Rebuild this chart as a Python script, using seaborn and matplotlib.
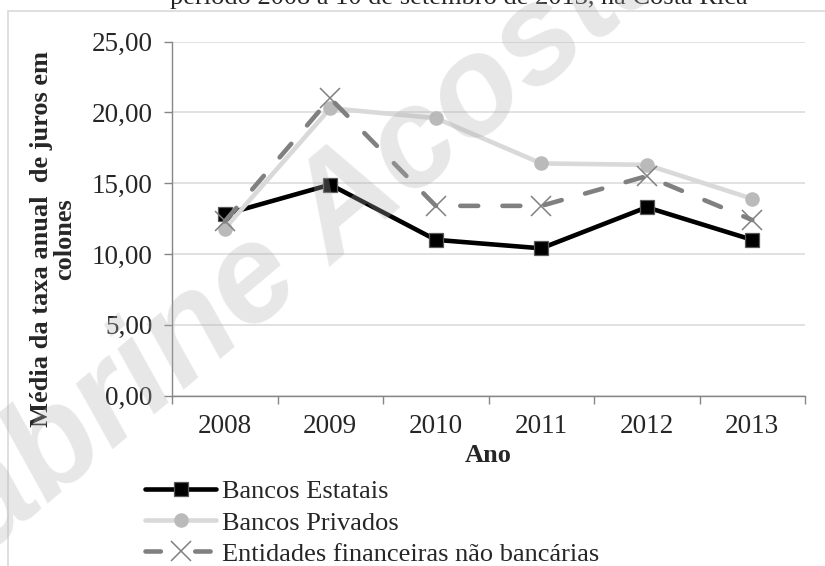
import matplotlib
matplotlib.use("Agg")
import matplotlib.pyplot as plt
import seaborn as sns
import pandas as pd
from matplotlib.patches import Rectangle
from matplotlib.lines import Line2D

# ---- data ----
anos = ["2008", "2009", "2010", "2011", "2012", "2013"]
bancos_estatais = [12.8, 14.9, 11.0, 10.4, 13.3, 11.0]
bancos_privados = [11.8, 20.3, 19.6, 16.4, 16.3, 13.9]
entidades_nao_bancarias = [12.3, 21.0, 13.4, 13.4, 15.5, 12.4]
y_ticks = [0, 5, 10, 15, 20, 25]
y_tick_labels = ["0,00", "5,00", "10,00", "15,00", "20,00", "25,00"]

nomes = ["Bancos Estatais", "Bancos Privados", "Entidades financeiras não bancárias"]
titulo = "período 2008 a 10 de setembro de 2013, na Costa Rica"
ylabel = "Média da taxa anual  de juros em\ncolones"
xlabel = "Ano"
marca = "Sabrine Acosta"

sns.set_style("white")
plt.rcParams["font.family"] = ["Liberation Serif", "DejaVu Serif"]

W, H = 825, 566
fig = plt.figure(figsize=(W / 100, H / 100), dpi=100)
ax = fig.add_axes([172 / W, 1 - 395.5 / H, (805 - 172) / W, (395.5 - 41.7) / H])

df = pd.DataFrame({"Ano": anos, nomes[0]: bancos_estatais,
                   nomes[1]: bancos_privados, nomes[2]: entidades_nao_bancarias})

sns.lineplot(data=df, x="Ano", y=nomes[0], ax=ax, color="black", lw=3.3,
             marker="s", markersize=9.5, markerfacecolor="black",
             markeredgecolor="#595959", markeredgewidth=0.9, zorder=3,
             solid_joinstyle="round", solid_capstyle="round")
sns.lineplot(data=df, x="Ano", y=nomes[1], ax=ax, color="#d9d9d9", lw=3.3,
             marker="o", markersize=10.5, markerfacecolor="#bababa",
             markeredgecolor="#bababa", markeredgewidth=0, zorder=4,
             solid_joinstyle="round", solid_capstyle="round")
sns.lineplot(data=df, x="Ano", y=nomes[2], ax=ax, color="#808080", lw=3.3,
             linestyle=(0, (3.9, 5.3)), dash_capstyle="round",
             marker="x", markersize=15, markeredgecolor="#808080",
             markeredgewidth=1.1, zorder=5)

ax.set_xlim(-0.5, 5.5)
ax.set_ylim(0, 25)
ax.set_yticks(y_ticks)
ax.set_yticklabels(y_tick_labels)
ax.set_xticks(range(len(anos)))
ax.set_xticklabels(anos)
ax.set_xticks([i - 0.5 for i in range(len(anos) + 1)], minor=True)
ax.tick_params(axis="x", which="major", length=0, pad=13, labelsize=19.5)
ax.tick_params(axis="x", which="minor", length=6, width=1, color="#868686", direction="out", bottom=True)
ax.tick_params(axis="y", which="major", length=6, width=1, color="#868686", direction="out",
               left=True, pad=8, labelsize=19.5)
ax.set_xlabel("")
ax.set_ylabel("")
ax.grid(axis="y", color="#d9d9d9", lw=1.1)
ax.grid(axis="x", visible=False)
for s in ["top", "right"]:
    ax.spines[s].set_visible(False)
for s in ["left", "bottom"]:
    ax.spines[s].set_color("#868686")
    ax.spines[s].set_linewidth(1.0)
ax.set_axisbelow(True)

fig.text(488 / W, 1 - 455 / H, xlabel, ha="center", va="center", fontsize=19, fontweight="bold")
fig.text(53 / W, 1 - 239 / H, ylabel, ha="center", va="center", rotation=90,
         fontsize=19, fontweight="bold", multialignment="center", linespacing=1.0)
fig.text(459 / W, 1 - 4 / H, titulo, ha="center", va="baseline", fontsize=19)

# chart frame
fig.patches.append(Rectangle((8 / W, -0.1), 2, 1 - 11 / H + 0.1, transform=fig.transFigure,
                             fill=False, edgecolor="#d9d9d9", lw=1.2))

handles = [
    Line2D([], [], color="black", lw=3.3, marker="s", markersize=9.5, markerfacecolor="black",
           markeredgecolor="#595959", markeredgewidth=0.9, solid_capstyle="round"),
    Line2D([], [], color="#d9d9d9", lw=3.3, marker="o", markersize=10.5, markerfacecolor="#bababa",
           markeredgewidth=0, solid_capstyle="round"),
    Line2D([], [], color="#808080", lw=3.3, linestyle=(0, (3.35, 7.5)), dash_capstyle="round",
           marker="x", markersize=15, markeredgecolor="#808080", markeredgewidth=1.1),
]
fig.legend(handles, nomes, loc="upper left", bbox_to_anchor=(145 / W, 1 - 480 / H),
           frameon=False, fontsize=19, handlelength=2.7, handletextpad=0.2,
           labelspacing=0.29, borderpad=0, borderaxespad=0)

fig.text(279 / W, 1 - 263 / H, marca, ha="center", va="center", rotation=40,
         fontsize=100, fontweight="bold", fontstyle="italic", family="Liberation Sans",
         color="#b0b0b0", alpha=0.3, zorder=20)

fig.savefig("out.png", dpi=100)
